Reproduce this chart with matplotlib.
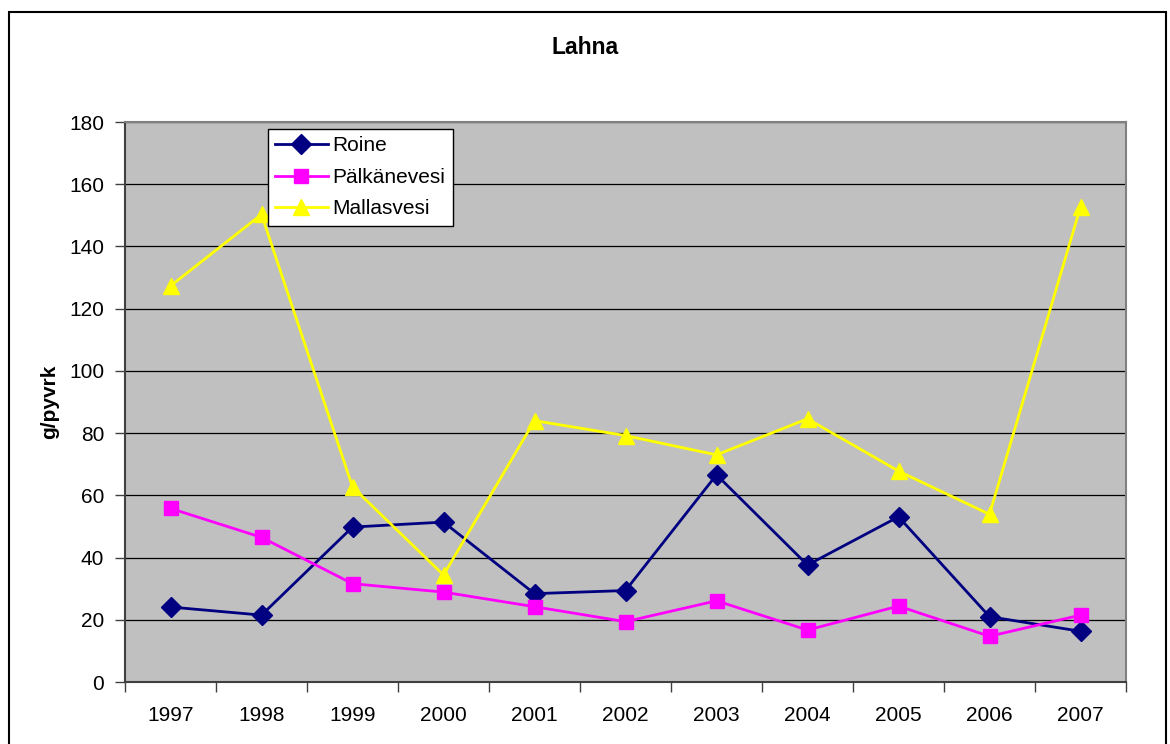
import numpy as np
import matplotlib
matplotlib.use('Agg')
import matplotlib.pyplot as plt
from matplotlib.patches import Rectangle

plt.rcParams['font.family'] = ['Liberation Sans', 'DejaVu Sans']

years = ['1997', '1998', '1999', '2000', '2001', '2002', '2003', '2004', '2005', '2006', '2007']
roine = [24.1, 21.5, 49.8, 51.4, 28.4, 29.4, 66.6, 37.6, 53.1, 21.0, 16.3]
palkanevesi = [55.8, 46.5, 31.6, 28.9, 24.2, 19.4, 26.1, 16.7, 24.4, 14.7, 21.5]
mallasvesi = [127.3, 150.3, 62.7, 34.4, 84.0, 79.2, 73.0, 84.6, 67.8, 53.9, 152.7]

fig = plt.figure(figsize=(11.7, 7.44), dpi=100)
ax = fig.add_axes([125 / 1170, 62 / 744, 1001 / 1170, 560 / 744])
ax.set_facecolor('#C0C0C0')

x = np.arange(len(years))
ax.plot(x, roine, color='#000080', lw=2.0, marker='D', ms=10, label='Roine', zorder=3)
ax.plot(x, palkanevesi, color='#FF00FF', lw=2.0, marker='s', ms=10.5, label='Pälkänevesi', zorder=3)
ax.plot(x, mallasvesi, color='#FFFF00', lw=2.0, marker='^', ms=11.5, label='Mallasvesi', zorder=3)

ax.set_xlim(-0.5, len(years) - 0.5)
ax.set_ylim(0, 180)
ax.set_yticks(np.arange(0, 181, 20))
ax.yaxis.grid(True, color='black', lw=0.9)
ax.set_axisbelow(True)

# category ticks sit between years, labels in the middle
ax.set_xticks(np.arange(-0.5, len(years), 1.0))
ax.set_xticklabels([])
ax.set_xticks(x, minor=True)
ax.set_xticklabels(years, minor=True)
ax.tick_params(axis='x', which='major', length=7, width=1, color='#404040')
ax.tick_params(axis='x', which='minor', length=0, pad=17, labelsize=15)
ax.tick_params(axis='y', length=7, width=1, color='#404040', pad=8, labelsize=15)

ax.spines['left'].set_color('#404040')
ax.spines['bottom'].set_color('#404040')
ax.spines['top'].set_color('#808080')
ax.spines['right'].set_color('#808080')
for s in ax.spines.values():
    s.set_linewidth(1.5)

leg = ax.legend(loc='upper left', bbox_to_anchor=(0.143, 0.9875), borderaxespad=0,
                fontsize=15, fancybox=False, edgecolor='black', framealpha=1,
                handlelength=2.5, handletextpad=0.25, labelspacing=0.6, borderpad=0.35)
leg.get_frame().set_linewidth(1.0)

fig.text(0.5, 1 - 47 / 744, 'Lahna', ha='center', va='center', fontsize=16.5, fontweight='bold')
fig.text(50 / 1170, 1 - 402 / 744, 'g/pyvrk', ha='center', va='center', rotation=90,
         fontsize=15, fontweight='bold')

# outer chart border
fig.patches.append(Rectangle((9 / 1170, -0.02), 1157 / 1170, 1.02 - 12 / 744,
                             transform=fig.transFigure, fill=False, edgecolor='black', lw=1.5))

fig.savefig('out.png', dpi=100)
